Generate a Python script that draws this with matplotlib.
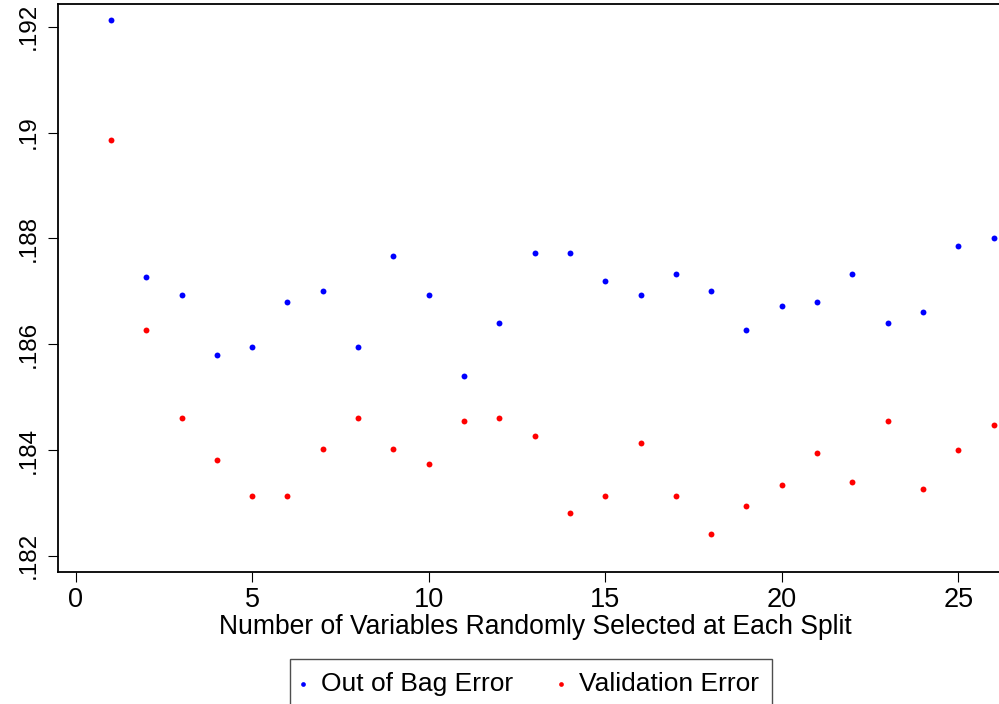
import matplotlib
matplotlib.use('Agg')
import matplotlib.pyplot as plt

# values
mtry = list(range(1, 27))
oob_error = [0.19212, 0.18727, 0.18693, 0.18580, 0.18594, 0.18680, 0.18700,
             0.18594, 0.18766, 0.18693, 0.18540, 0.18640, 0.18773, 0.18773,
             0.18720, 0.18693, 0.18733, 0.18700, 0.18626, 0.18673, 0.18680,
             0.18733, 0.18640, 0.18660, 0.18786, 0.18800]
val_error = [0.18986, 0.18627, 0.18460, 0.18381, 0.18314, 0.18314, 0.18401,
             0.18460, 0.18401, 0.18374, 0.18454, 0.18460, 0.18427, 0.18281,
             0.18314, 0.18414, 0.18314, 0.18241, 0.18294, 0.18334, 0.18394,
             0.18340, 0.18454, 0.18327, 0.18400, 0.18447]
x_ticks = [0, 5, 10, 15, 20, 25]
y_ticks = [0.182, 0.184, 0.186, 0.188, 0.190, 0.192]
y_tick_labels = ['.182', '.184', '.186', '.188', '.19', '.192']

plt.rcParams['font.family'] = ['Liberation Sans', 'DejaVu Sans']

fig = plt.figure(figsize=(9.99, 7.04), dpi=100)
# axes runs a little past the right edge of the picture, as in the reference
ax = fig.add_axes([58 / 999, 1 - 571.7 / 704, (1012 - 58) / 999, (571.7 - 4) / 704])

ax.scatter(mtry, oob_error, s=18, color='#0000ff', linewidths=0, label='Out of Bag Error', zorder=3)
ax.scatter(mtry, val_error, s=18, color='#ff0000', linewidths=0, label='Validation Error', zorder=3)

ax.set_xlim(-0.5, 26.52)
ax.set_ylim(0.18170, 0.19243)

ax.set_xticks(x_ticks)
ax.set_xticklabels([str(t) for t in x_ticks])
ax.set_yticks(y_ticks)
ax.set_yticklabels(y_tick_labels, rotation=90, va='center')

ax.tick_params(axis='both', direction='out', length=7.2, width=0.8, color='black')
ax.tick_params(axis='x', labelsize=19.5, pad=3.5)
ax.tick_params(axis='y', labelsize=17.5, pad=6)
for side in ['left', 'bottom', 'top', 'right']:
    ax.spines[side].set_linewidth(1.3)
    ax.spines[side].set_color('black')

ax.set_xlabel('Number of Variables Randomly Selected at Each Split', fontsize=19.1, labelpad=1)

# legend box runs off the bottom of the picture, like the reference
leg = ax.legend(loc='upper center', bbox_to_anchor=(0.5 - 4 / 954, -(659 - 571.7) / (571.7 - 4)),
                ncol=2, fontsize=19, frameon=True, fancybox=False, markerscale=0.8,
                handletextpad=0.65, columnspacing=1.8, borderpad=0.5, handlelength=0.05,
                borderaxespad=0)
leg.get_frame().set_edgecolor('#222222')
leg.get_frame().set_linewidth(1.0)

fig.savefig('out.png', dpi=100)
plt.close(fig)
